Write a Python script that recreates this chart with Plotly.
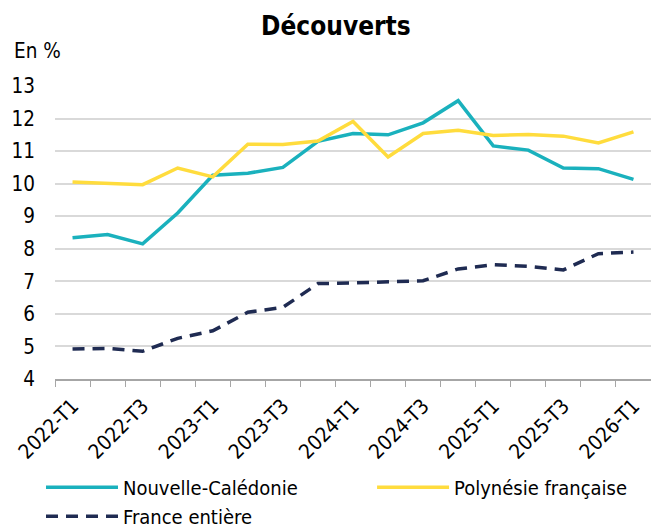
import plotly.graph_objects as go

# trimestres
quarters = ["2022-T1", "2022-T2", "2022-T3", "2022-T4",
            "2023-T1", "2023-T2", "2023-T3", "2023-T4",
            "2024-T1", "2024-T2", "2024-T3", "2024-T4",
            "2025-T1", "2025-T2", "2025-T3", "2025-T4",
            "2026-T1"]

nouvelle_caledonie = [8.34, 8.44, 8.15, 9.10, 10.26, 10.32, 10.50, 11.30,
                      11.54, 11.50, 11.87, 12.55, 11.16, 11.03, 10.48, 10.46,
                      10.13]
polynesie = [10.05, 10.02, 9.97, 10.48, 10.21, 11.21, 11.20, 11.31,
             11.91, 10.82, 11.54, 11.64, 11.48, 11.51, 11.46, 11.25,
             11.59]
france = [4.92, 4.94, 4.85, 5.25, 5.48, 6.05, 6.20, 6.93,
          6.95, 6.98, 7.02, 7.38, 7.51, 7.46, 7.35, 7.85,
          7.90]

# un libellé sur deux
tick_labels = [q if i % 2 == 0 else "" for i, q in enumerate(quarters)]

FONT = "DejaVu Sans Condensed"

fig = go.Figure()
fig.add_trace(go.Scatter(x=quarters, y=nouvelle_caledonie, mode="lines",
                         name="Nouvelle-Calédonie", legend="legend",
                         line=dict(color="#1AB1BD", width=3.5)))
fig.add_trace(go.Scatter(x=quarters, y=polynesie, mode="lines",
                         name="Polynésie française", legend="legend2",
                         line=dict(color="#FFDC3D", width=3.5)))
fig.add_trace(go.Scatter(x=quarters, y=france, mode="lines",
                         name="France entière", legend="legend",
                         line=dict(color="#1F2B52", width=3.5, dash="12px,8px")))

legend_style = dict(orientation="v", xanchor="left", y=-0.303, yanchor="top",
                    itemwidth=72, font=dict(size=20), tracegroupgap=0,
                    bgcolor="rgba(0,0,0,0)")

fig.update_layout(
    width=651, height=528,
    margin=dict(l=55, r=0, t=86, b=149, autoexpand=False),
    paper_bgcolor="white", plot_bgcolor="white",
    font=dict(family=FONT, size=20.5, color="#000000"),
    title=dict(text="<b>Découverts</b>", x=0.516, xref="container",
               y=0.951, yanchor="middle", xanchor="center",
               font=dict(family=FONT, size=26, color="#000000")),
    showlegend=True,
    legend=dict(x=-0.0235, **legend_style),
    legend2=dict(x=0.532, **legend_style),
)

fig.update_xaxes(type="category", tickson="boundaries", tickvals=quarters,
                 ticktext=tick_labels, tickangle=-45, ticks="outside",
                 ticklen=6, tickcolor="#a6a6a6", showline=True,
                 linecolor="#a6a6a6", linewidth=1.5, showgrid=False,
                 range=[-0.5, 16.5], automargin=False, ticklabelstandoff=5)
fig.update_yaxes(range=[4, 13], dtick=1, showgrid=True, gridcolor="#d9d9d9",
                 gridwidth=1.5, zeroline=False, showline=False,
                 ticklabelstandoff=19, automargin=False)

fig.add_annotation(text="En %", xref="paper", yref="paper",
                   x=-0.072, y=1.12, xanchor="left", yanchor="middle",
                   showarrow=False, font=dict(family=FONT, size=20.5))

# pas de marge autour de la page
fig.write_html("out.html", config={"displayModeBar": False},
               post_script="document.body.style.margin='0';")
